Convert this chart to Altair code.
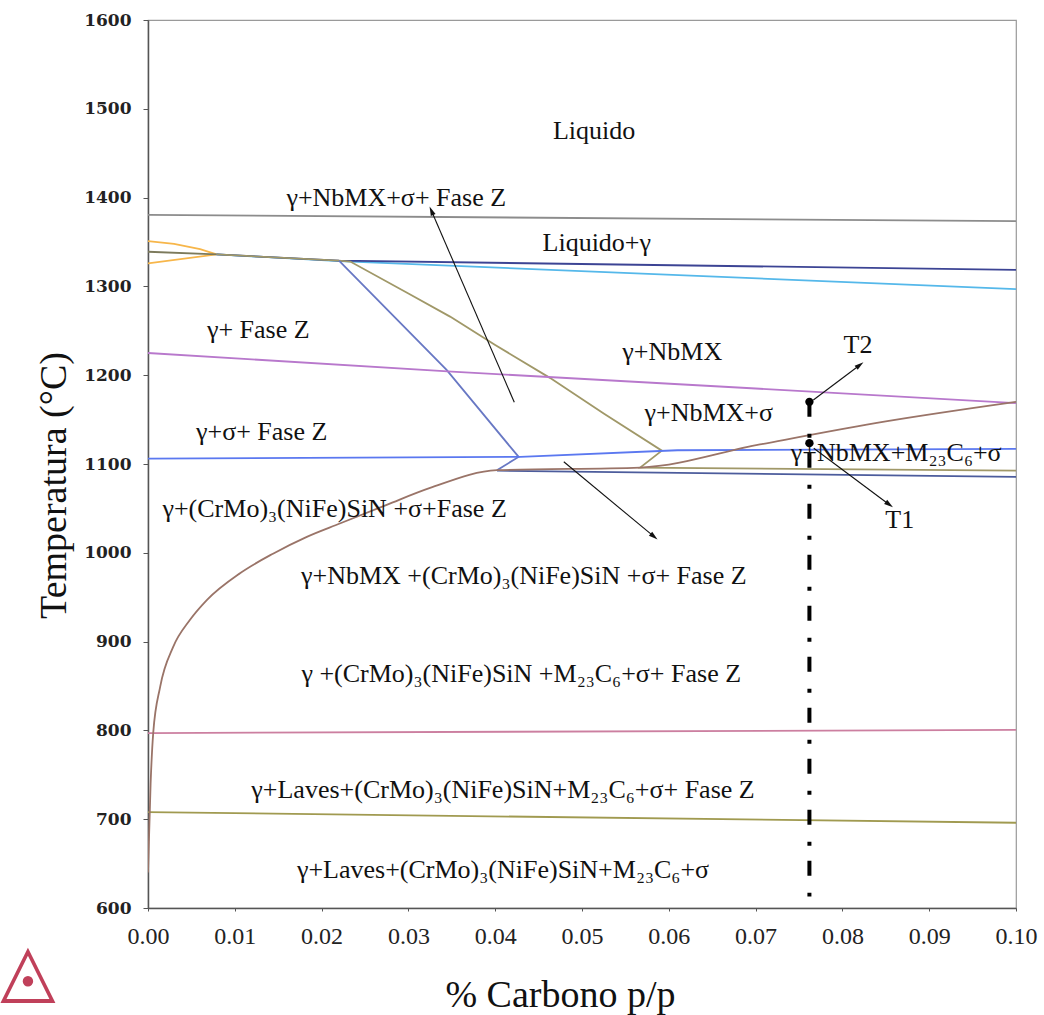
import math
import altair as alt
import pandas as pd

# ---- Phase boundary lines (wt.% C, temperature in degC) ----
liq_x = [0.0, 0.1]
liq_t = [1380.5, 1373.5]

orange_up_x = [0.0, 0.003, 0.006, 0.0079]
orange_up_t = [1351, 1348, 1342, 1336]
orange_lo_x = [0.0, 0.0079]
orange_lo_t = [1326, 1336]

grey_olive_x = [0.0, 0.0079]
grey_olive_t = [1339, 1336]

navy_up_x = [0.0079, 0.022, 0.1]
navy_up_t = [1336, 1329, 1318.5]

light_blue_x = [0.0079, 0.022, 0.1]
light_blue_t = [1336, 1328.5, 1297]

# gamma / NbMX boundary, including the short return to the lower branch
olive_x = [0.0079, 0.022, 0.0233, 0.030, 0.0348, 0.040, 0.0463, 0.0525, 0.0592, 0.0567, 0.1]
olive_t = [1336, 1329, 1328, 1292, 1266, 1234, 1197, 1157, 1115, 1096, 1092.5]

slate_x = [0.022, 0.0344, 0.0427, 0.0402]
slate_t = [1329, 1206, 1108, 1093]

navy_lo_x = [0.0402, 0.1]
navy_lo_t = [1092.5, 1085.5]

purple_x = [0.0, 0.035, 0.07, 0.1]
purple_t = [1225, 1204, 1185, 1168.5]

blue_x = [0.0, 0.0429, 0.061, 0.1]
blue_t = [1106, 1108, 1115.5, 1117]

brown_x = [0.0, 0.0003, 0.0006, 0.0014, 0.0029, 0.0048, 0.0068, 0.0106, 0.0144,
           0.0183, 0.0221, 0.0275, 0.0325, 0.0402, 0.0567, 0.0705, 0.085, 0.1]
brown_t = [640, 740, 797, 849, 894, 924, 947, 977, 999,
           1018, 1033, 1054, 1073, 1093, 1096, 1122, 1148, 1170]

pink_x = [0.0, 0.1]
pink_t = [797, 800.5]

olive_lo_x = [0.0, 0.1]
olive_lo_t = [708, 696]

lines = [
    ("liquidus", liq_x, liq_t, "#8c8c8c"),
    ("orange_up", orange_up_x, orange_up_t, "#f7b64a"),
    ("orange_lo", orange_lo_x, orange_lo_t, "#f7b64a"),
    ("grey_olive", grey_olive_x, grey_olive_t, "#7c7a5c"),
    ("light_blue", light_blue_x, light_blue_t, "#55b8ea"),
    ("navy_up", navy_up_x, navy_up_t, "#3c4494"),
    ("olive", olive_x, olive_t, "#a09868"),
    ("slate", slate_x, slate_t, "#6878c4"),
    ("navy_lo", navy_lo_x, navy_lo_t, "#4c5c9c"),
    ("purple", purple_x, purple_t, "#b878cc"),
    ("blue", blue_x, blue_t, "#5b78f0"),
    ("pink", pink_x, pink_t, "#cc7fa0"),
    ("olive_lo", olive_lo_x, olive_lo_t, "#a09a50"),
]

rows = []
for name, xs_, ts_, _ in lines:
    for i, (xv, tv) in enumerate(zip(xs_, ts_)):
        rows.append({"line": name, "i": i, "c": xv, "t": tv})
line_df = pd.DataFrame(rows)
brown_df = pd.DataFrame({"c": brown_x, "t": brown_t})

# ---- Region labels ----
label_text = [
    "Liquido",
    "γ+NbMX+σ+ Fase Z",
    "Liquido+γ",
    "γ+ Fase Z",
    "γ+NbMX",
    "γ+NbMX+σ",
    "γ+σ+ Fase Z",
    "γ+NbMX+M₂₃C₆+σ",
    "γ+(CrMo)₃(NiFe)SiN +σ+Fase Z",
    "γ+NbMX +(CrMo)₃(NiFe)SiN +σ+ Fase Z",
    "γ +(CrMo)₃(NiFe)SiN +M₂₃C₆+σ+ Fase Z",
    "γ+Laves+(CrMo)₃(NiFe)SiN+M₂₃C₆+σ+ Fase Z",
    "γ+Laves+(CrMo)₃(NiFe)SiN+M₂₃C₆+σ",
    "T2",
    "T1",
]
label_x = [0.0514, 0.0286, 0.0517, 0.0127, 0.0604, 0.0646, 0.0131, 0.0862,
           0.0215, 0.0433, 0.0430, 0.0409, 0.0409, 0.0818, 0.0866]
label_t = [1475, 1399.5, 1349, 1251, 1226, 1157.5, 1136, 1112.4,
           1049, 974, 863.5, 733, 643, 1234, 1037]
label_df = pd.DataFrame({"text": label_text, "c": label_x, "t": label_t})

# ---- Annotation arrows (start -> tip) ----
arrow_x0 = [0.0422, 0.0479, 0.07665, 0.0767]
arrow_t0 = [1169.5, 1102.5, 1172, 1117.7]
arrow_x1 = [0.0327, 0.0582, 0.0819, 0.0853]
arrow_t1 = [1384, 1019, 1210.7, 1055]

# Selected alloy composition and its two temperatures
alloy_c = 0.0762
alloy_t_top = 1170
alloy_t_bottom = 613
mark_t = [1170, 1123.5]

W, H = 868, 888
X_DOM = [0.0, 0.1]
Y_DOM = [600, 1600]
px_per_x = W / (X_DOM[1] - X_DOM[0])
px_per_t = H / (Y_DOM[1] - Y_DOM[0])

angles = []
for a, b, c, d in zip(arrow_x0, arrow_t0, arrow_x1, arrow_t1):
    dx = (c - a) * px_per_x
    dy = -(d - b) * px_per_t
    angles.append(math.degrees(math.atan2(dx, -dy)) % 360)

seg_df = pd.DataFrame({"c": arrow_x0, "t": arrow_t0, "c2": arrow_x1, "t2": arrow_t1})
head_df = pd.DataFrame({"c": arrow_x1, "t": arrow_t1, "ang": angles})

SERIF = "Liberation Serif, 'Times New Roman', Times, serif"

xs = alt.Scale(domain=X_DOM, nice=False, zero=False)
ys = alt.Scale(domain=Y_DOM, nice=False, zero=False)

x_axis = alt.Axis(
    values=[round(0.01 * k, 2) for k in range(11)], format=".2f",
    title="% Carbono p/p", grid=False, labelFlush=False,
    labelFont=SERIF, labelFontSize=24, labelColor="#222",
    tickSize=3, labelPadding=13, tickColor="#555",
    domainColor="#555", domainWidth=1.5,
    titleFont=SERIF, titleFontSize=38, titleFontWeight="normal",
    titleColor="#111", titlePadding=28, titleX=412, titleAlign="center",
)
y_axis = alt.Axis(
    values=list(range(600, 1601, 100)), format="d",
    title="Temperatura (°C)", grid=False, labelFlush=False,
    labelFont="DejaVu Serif", labelFontSize=17, labelFontWeight="bold",
    labelColor="#222",
    tickSize=5, labelPadding=12, tickColor="#555",
    domainColor="#555", domainWidth=1.5,
    titleFont=SERIF, titleFontSize=38, titleFontWeight="normal",
    titleColor="#111", titlePadding=10, titleY=465, titleAlign="center",
)

names = [l[0] for l in lines]
colors = [l[3] for l in lines]

boundaries = alt.Chart(line_df).mark_line(strokeWidth=1.8, clip=True).encode(
    x=alt.X("c:Q", scale=xs, axis=x_axis),
    y=alt.Y("t:Q", scale=ys, axis=y_axis),
    color=alt.Color("line:N", scale=alt.Scale(domain=names, range=colors), legend=None),
    detail="line:N",
    order="i:Q",
)

# M23C6 solvus drawn as a smooth curve
brown = alt.Chart(brown_df).mark_line(
    strokeWidth=1.8, color="#9a7468", interpolate="monotone", clip=True
).encode(x="c:Q", y="t:Q")

alloy_line = alt.Chart(pd.DataFrame({"c": [alloy_c], "t": [alloy_t_top], "t2": [alloy_t_bottom]})).mark_rule(
    color="black", strokeWidth=4, strokeDash=[15, 17, 4, 15], strokeCap="butt"
).encode(x="c:Q", y="t:Q", y2="t2:Q")

alloy_pts = alt.Chart(pd.DataFrame({"c": [alloy_c] * 2, "t": mark_t})).mark_point(
    filled=True, color="black", size=70, opacity=1, shape="circle"
).encode(x="c:Q", y="t:Q")

arrow_lines = alt.Chart(seg_df).mark_rule(color="#111", strokeWidth=1.1).encode(
    x="c:Q", y="t:Q", x2="c2:Q", y2="t2:Q"
)
arrow_heads = alt.Chart(head_df).mark_point(
    shape="M0,-1L0.45,0.6L-0.45,0.6Z", filled=True, color="#111", size=130, opacity=1
).encode(x="c:Q", y="t:Q", angle=alt.Angle("ang:Q", scale=None))

labels = alt.Chart(label_df).mark_text(
    font=SERIF, fontSize=26, color="#111", align="center", baseline="middle"
).encode(x="c:Q", y="t:Q", text="text:N")

logo = alt.Chart(pd.DataFrame({"s": ["◬"]})).mark_text(
    font="DejaVu Sans", fontSize=72, color="#c0405a", align="center", baseline="middle"
).encode(x=alt.value(-120), y=alt.value(952), text="s:N")

chart = alt.layer(
    boundaries, brown, alloy_line, alloy_pts, arrow_lines, arrow_heads, labels, logo
).properties(
    width=W, height=H,
    autosize=alt.AutoSizeParams(type="none"),
    padding={"left": 148, "top": 20, "right": 28, "bottom": 107},
    background="white",
).configure_view(stroke="#9a9a9a", strokeWidth=1.2)

chart.save("out.html", embed_options={"renderer": "svg", "actions": False})
